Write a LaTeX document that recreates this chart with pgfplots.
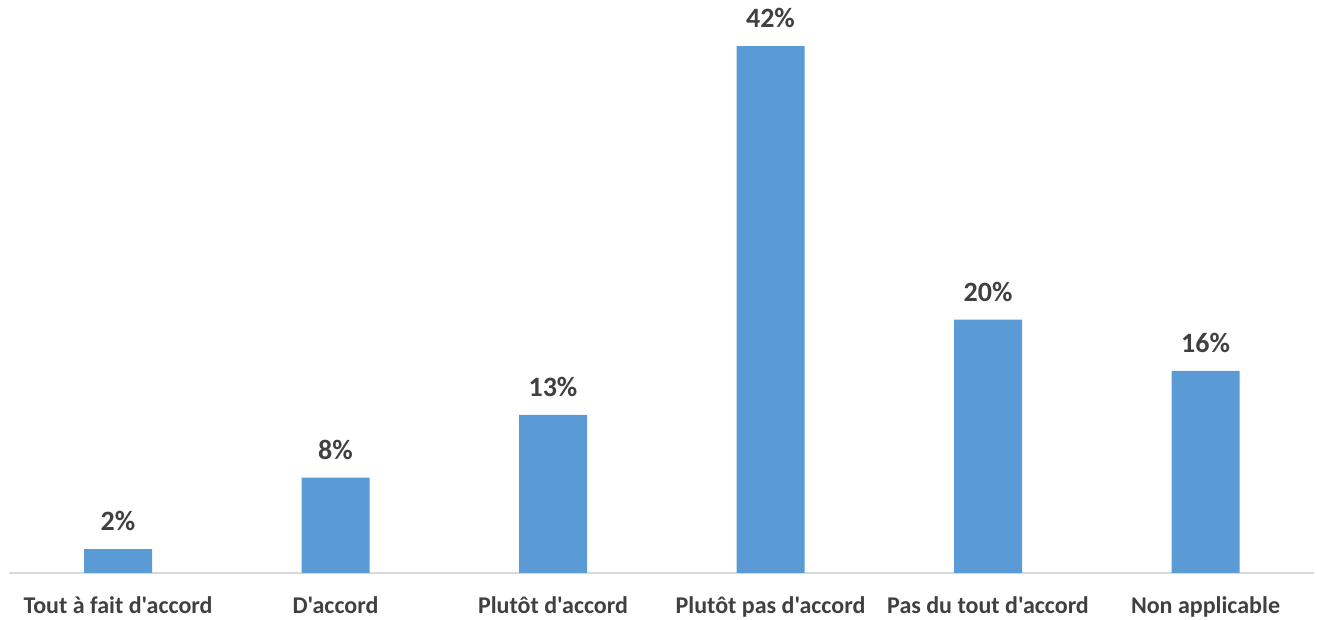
\documentclass[border=0pt]{standalone}
\usepackage{pgfplots}
\pgfplotsset{compat=1.18}
\usepackage{fontspec}
\setmainfont{Carlito}[Ligatures=TeXOff]
\definecolor{barblue}{HTML}{5B9BD5}
\definecolor{txtgrey}{HTML}{404040}
\definecolor{axgrey}{HTML}{D9D9D9}
\begin{document}
\begin{tikzpicture}
\begin{axis}[
  at={(0,0)}, anchor=origin,
  scale only axis, width=652.5pt, height=284pt,
  xmin=-0.5, xmax=5.5, ymin=0, ymax=45.27,
  ybar, bar width=34pt,
  axis y line=none,
  axis x line*=bottom,
  x axis line style={draw=axgrey, line width=1pt, -},
  xtick=data, xtick style={draw=none},
  xticklabels={Tout à fait d'accord, D'accord, Plutôt d'accord, Plutôt pas d'accord, Pas du tout d'accord, Non applicable},
  xticklabel style={font=\bfseries\fontsize{12}{14}\selectfont, text=txtgrey, yshift=-4pt},
  /pgf/number format/assume math mode=true,
  nodes near coords={\pgfmathprintnumber[fixed,precision=0,assume math mode=true]{\pgfplotspointmeta}\%},
  nodes near coords style={font=\bfseries\fontsize{14}{16}\selectfont, text=txtgrey, yshift=5.5pt},
  clip=false,
]
\addplot[fill=barblue, draw=none] coordinates {(0,1.9) (1,7.6) (2,12.6) (3,42.0) (4,20.2) (5,16.1)};
\end{axis}
\pgfresetboundingbox
\path (-59pt,-23.5pt) rectangle (599.5pt,286.5pt);
\end{tikzpicture}
\end{document}
